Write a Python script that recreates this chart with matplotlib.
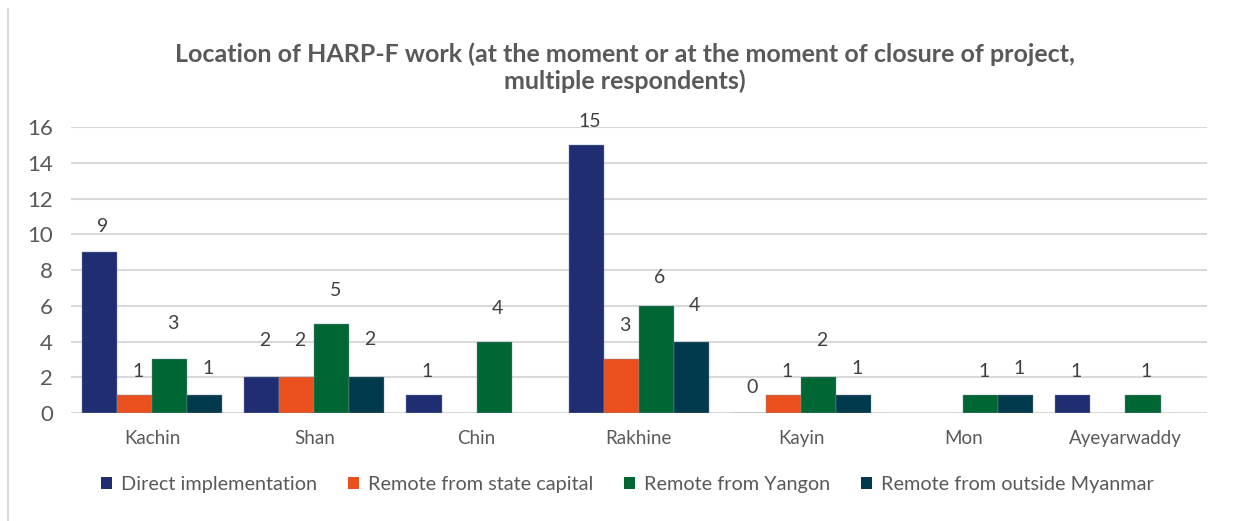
import matplotlib.pyplot as plt
import numpy as np
from matplotlib.lines import Line2D
from matplotlib.patches import Patch

plt.rcParams['font.family'] = ['Lato', 'DejaVu Sans']

# data
regions = ['Kachin', 'Shan', 'Chin', 'Rakhine', 'Kayin', 'Mon', 'Ayeyarwaddy']
direct = [9, 2, 1, 15, 0, np.nan, 1]
state_capital = [1, 2, np.nan, 3, 1, np.nan, np.nan]
yangon = [3, 5, 4, 6, 2, 1, 1]
outside = [1, 2, np.nan, 4, 1, 1, np.nan]
series_names = ['Direct implementation', 'Remote from state capital',
                'Remote from Yangon', 'Remote from outside Myanmar']
colors = ['#1F2E73', '#E9501E', '#006633', '#003A4C']

# where the value labels sit in the original (they float above the bars)
label_y = [
    [10.45, 4.05, 2.3, 16.3, 1.45, None, 2.3],
    [2.3, 4.05, None, 4.92, 2.3, None, None],
    [4.98, 6.85, 5.87, 7.6, 4.05, 2.3, 2.3],
    [2.5, 4.14, None, 6.0, 2.5, 2.5, None],
]

fig = plt.figure(figsize=(12.35, 5.21), dpi=100)
ax = fig.add_axes([0.0575, 0.2073, 0.9195, 0.5489])

x = np.arange(len(regions))
w = 0.216
all_series = [direct, state_capital, yangon, outside]
for i, (vals, c) in enumerate(zip(all_series, colors)):
    pos = x + (i - 1.5) * w
    ax.bar(pos, vals, width=w, color=c, edgecolor='#8090a0', linewidth=0.3, zorder=3)
    for px, v, ly in zip(pos, vals, label_y[i]):
        if ly is None or np.isnan(v):
            continue
        ax.text(px + 0.02, ly, f'{int(v)}', ha='center', va='center',
                fontsize=14, color='#404040', zorder=4)

ax.set_xlim(-0.5, len(regions) - 0.5)
ax.set_ylim(0, 16)
ax.set_yticks(range(0, 17, 2))
ax.set_xticks(x)
ax.set_xticklabels(regions)
ax.tick_params(axis='y', length=0, labelsize=16, labelcolor='#595959', pad=13)
ax.tick_params(axis='x', length=0, labelsize=13.5, labelcolor='#595959', pad=12)
ax.grid(axis='y', color='#D9D9D9', linewidth=1.5, zorder=0)
for s in ax.spines.values():
    s.set_visible(False)

fig.text(0.506, 0.87, 'Location of HARP-F work (at the moment or at the moment of closure of project,\nmultiple respondents)',
         ha='center', va='center', fontsize=18, fontweight='bold', color='#595959', linespacing=1.22)

handles = [Patch(facecolor=c, edgecolor='none') for c in colors]
fig.legend(handles, series_names, loc='center', bbox_to_anchor=(0.508, 0.07), ncol=4,
           frameon=False, fontsize=14.3, labelcolor='#595959', handlelength=0.55,
           handleheight=0.55, handletextpad=0.45, columnspacing=1.55)

# chart area border on the left
fig.add_artist(Line2D([0.0065, 0.0065], [0, 0.983], color='#D9D9D9', linewidth=1.5))

fig.savefig('out.png', dpi=100)
